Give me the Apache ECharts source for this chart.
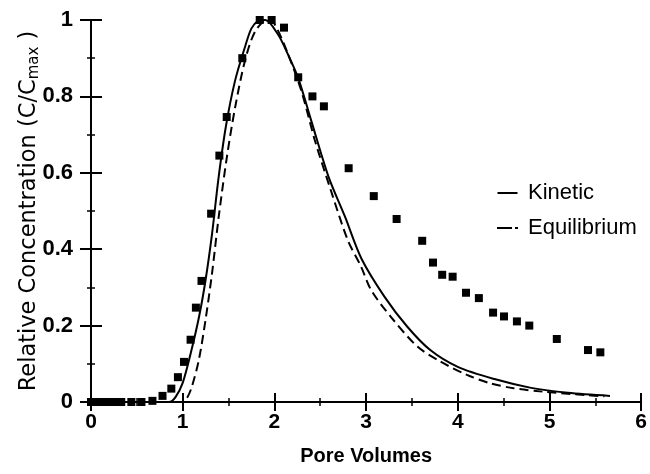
<!DOCTYPE html>
<html>
<head>
<meta charset="utf-8">
<script src="https://cdn.jsdelivr.net/npm/echarts@6/dist/echarts.min.js"></script>
<style>html,body{margin:0;padding:0;background:#fff}#c{width:650px;height:474px}</style>
</head>
<body>
<div id="c"></div>
<script>
// Measured data (Pore Volumes vs C/Cmax)
var dataX = [0.0,0.04,0.08,0.12,0.16,0.2,0.24,0.28,0.33,0.44,0.55,0.67,0.78,0.876,0.948,1.014,1.086,1.144,1.205,1.31,1.40,1.48,1.65,1.84,1.97,2.105,2.26,2.415,2.54,2.81,3.084,3.333,3.612,3.73,3.83,3.944,4.09,4.23,4.385,4.504,4.645,4.78,5.08,5.42,5.555];
var dataY = [0,0,0,0,0,0,0,0,0,0,0,0.003,0.016,0.035,0.065,0.105,0.163,0.247,0.317,0.493,0.645,0.746,0.90,1.0,1.0,0.98,0.85,0.80,0.774,0.612,0.539,0.479,0.422,0.365,0.333,0.328,0.286,0.272,0.234,0.224,0.211,0.2,0.165,0.136,0.13];
// Kinetic model curve
var kineticX = [0,0.85,0.92,1.0,1.09,1.18,1.25,1.32,1.39,1.47,1.57,1.68,1.75,1.82,1.9,2.04,2.15,2.26,2.40,2.59,2.77,2.95,3.2,3.45,3.7,4.0,4.4,4.8,5.2,5.66];
var kineticY = [0,0,0.012,0.05,0.13,0.225,0.32,0.44,0.585,0.72,0.84,0.93,0.978,0.997,1.0,0.962,0.909,0.848,0.738,0.59,0.485,0.375,0.276,0.197,0.136,0.092,0.060,0.037,0.024,0.016];
// Equilibrium model curve
var equilX = [0,1.0,1.05,1.10,1.176,1.249,1.32,1.393,1.483,1.574,1.682,1.79,1.92,2.0,2.15,2.3,2.44,2.62,2.80,2.946,3.055,3.27,3.56,3.81,4.10,4.355,4.61,4.93,5.40,5.6];
var equilY = [0,0,0.012,0.04,0.11,0.215,0.337,0.485,0.643,0.774,0.896,0.97,1.0,0.99,0.91,0.81,0.686,0.551,0.424,0.354,0.293,0.223,0.145,0.106,0.071,0.049,0.036,0.027,0.018,0.015];
var seriesNames = ['Kinetic','Equilibrium'];
var xTitle = 'Pore Volumes';

function pairs(xs, ys){ return xs.map(function(x,i){ return [x, ys[i]]; }); }

var FONT = 'Liberation Sans, Arial, sans-serif';
var WIDE = 'DejaVu Sans, sans-serif';
var chart = echarts.init(document.getElementById('c'), null, {renderer:'canvas'});
var axisCommonX = {type:'value', min:0, max:6, interval:1};
var axisCommonY = {type:'value', min:0, max:1, interval:0.2};
chart.setOption({
  animation:false,
  backgroundColor:'#fff',
  grid:{left:91, right:2, top:20, bottom:72},
  legend:{
    data:[{name:seriesNames[0], icon:'path://M0,0h20v2h-20z'},
          {name:seriesNames[1], icon:'path://M0,0h15v2h-15zM18,0h3v2h-3z'}],
    orient:'vertical', left:497, top:181, padding:0,
    itemWidth:21, itemHeight:2, itemGap:11,
    textStyle:{fontFamily:FONT, fontSize:22, lineHeight:24, color:'#000', padding:[0,0,0,5]},
    selectedMode:false
  },
  xAxis:[
    Object.assign({}, axisCommonX, {
      name:xTitle, nameLocation:'middle', nameGap:44,
      nameTextStyle:{fontFamily:FONT, fontSize:20, color:'#000', fontWeight:'bold'},
      axisLine:{lineStyle:{color:'#000', width:2}},
      axisTick:{show:true, length:9, lineStyle:{color:'#000', width:2}},
      minorTick:{show:true, splitNumber:2, length:4, lineStyle:{color:'#000', width:1.5}},
      axisLabel:{fontFamily:FONT, fontSize:21, color:'#000', fontWeight:'bold', margin:10},
      splitLine:{show:false}
    }),
    Object.assign({}, axisCommonX, {
      position:'bottom',
      axisLine:{show:false},
      axisTick:{show:true, inside:true, length:9, lineStyle:{color:'#000', width:2}},
      minorTick:{show:true, splitNumber:2, length:4, lineStyle:{color:'#000', width:1.5}},
      axisLabel:{show:false}, splitLine:{show:false}
    })
  ],
  yAxis:[
    Object.assign({}, axisCommonY, {
      name:'{a|Relative Concentration (C/C}{b|max}{a| )}', nameLocation:'middle', nameGap:49,
      nameMoveOverlap:false,
      nameTextStyle:{fontFamily:WIDE, color:'#000',
        rich:{a:{fontFamily:WIDE, fontSize:22.5, color:'#000'},
              b:{fontFamily:WIDE, fontSize:15, color:'#000', padding:[10,0,0,0]}}},
      axisLine:{lineStyle:{color:'#000', width:2}},
      axisTick:{show:true, length:11, lineStyle:{color:'#000', width:2}},
      minorTick:{show:true, splitNumber:2, length:4, lineStyle:{color:'#000', width:1.5}},
      axisLabel:{fontFamily:FONT, fontSize:22, color:'#000', fontWeight:'bold', margin:18},
      splitLine:{show:false}
    }),
    Object.assign({}, axisCommonY, {
      position:'left',
      axisLine:{show:false},
      axisTick:{show:true, inside:true, length:11, lineStyle:{color:'#000', width:2}},
      minorTick:{show:true, splitNumber:2, length:4, lineStyle:{color:'#000', width:1.5}},
      axisLabel:{show:false}, splitLine:{show:false}
    })
  ],
  series:[
    {name:seriesNames[0], type:'line', data:pairs(kineticX, kineticY), smooth:0.3, symbol:'none',
     lineStyle:{color:'#000', width:2, type:'solid'}, itemStyle:{color:'#000'}, z:3},
    {name:seriesNames[1], type:'line', data:pairs(equilX, equilY), smooth:0.3, symbol:'none',
     lineStyle:{color:'#000', width:2, type:[9,5]}, itemStyle:{color:'#000'}, z:3},
    {name:'Data', type:'scatter', data:pairs(dataX, dataY), symbol:'rect', symbolSize:8,
     itemStyle:{color:'#000', opacity:1}, z:4}
  ]
});
</script>
</body>
</html>
